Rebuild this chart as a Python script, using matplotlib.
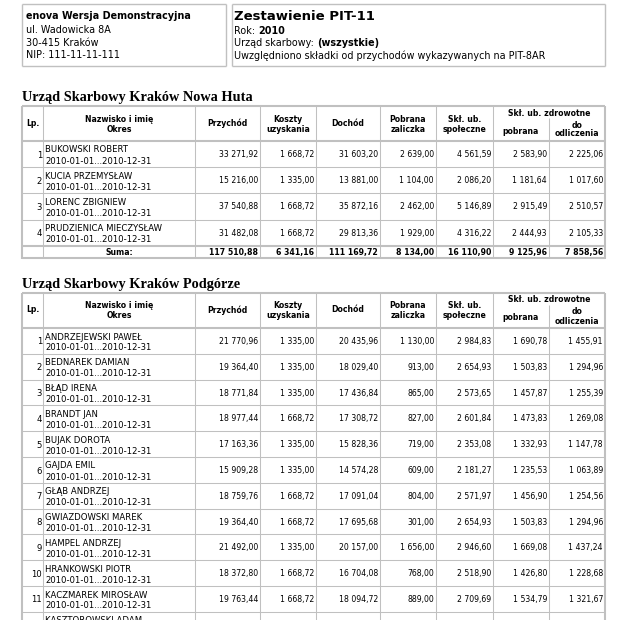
"""PIT-11 summary report (enova demo) redrawn as a matplotlib page."""
import matplotlib
matplotlib.use("Agg")
import matplotlib.pyplot as plt

W, H = 644, 620
GRID = "#c0c0c0"
FONT = "DejaVu Sans"

# --- data -------------------------------------------------------------------
names1 = ["BUKOWSKI ROBERT", "KUCIA PRZEMYSŁAW", "LORENC ZBIGNIEW", "PRUDZIENICA MIECZYSŁAW"]
przychod1 = [33271.92, 15216.00, 37540.88, 31482.08]
koszty1 = [1668.72, 1335.00, 1668.72, 1668.72]
dochod1 = [31603.20, 13881.00, 35872.16, 29813.36]
zaliczka1 = [2639.00, 1104.00, 2462.00, 1929.00]
spol1 = [4561.59, 2086.20, 5146.89, 4316.22]
zdr_pobr1 = [2583.90, 1181.64, 2915.49, 2444.93]
zdr_odl1 = [2225.06, 1017.60, 2510.57, 2105.33]

names2 = ["ANDRZEJEWSKI PAWEŁ", "BEDNAREK DAMIAN", "BŁĄD IRENA", "BRANDT JAN", "BUJAK DOROTA",
          "GAJDA EMIL", "GŁĄB ANDRZEJ", "GWIAZDOWSKI MAREK", "HAMPEL ANDRZEJ",
          "HRANKOWSKI PIOTR", "KACZMAREK MIROSŁAW", "KASZTOROWSKI ADAM"]
przychod2 = [21770.96, 19364.40, 18771.84, 18977.44, 17163.36, 15909.28, 18759.76, 19364.40,
             21492.00, 18372.80, 19763.44]
koszty2 = [1335.00, 1335.00, 1335.00, 1668.72, 1335.00, 1335.00, 1668.72, 1668.72, 1335.00,
           1668.72, 1668.72]
dochod2 = [20435.96, 18029.40, 17436.84, 17308.72, 15828.36, 14574.28, 17091.04, 17695.68,
           20157.00, 16704.08, 18094.72]
zaliczka2 = [1130.00, 913.00, 865.00, 827.00, 719.00, 609.00, 804.00, 301.00, 1656.00,
             768.00, 889.00]
spol2 = [2984.83, 2654.93, 2573.65, 2601.84, 2353.08, 2181.27, 2571.97, 2654.93, 2946.60,
         2518.90, 2709.69]
zdr_pobr2 = [1690.78, 1503.83, 1457.87, 1473.83, 1332.93, 1235.53, 1456.90, 1503.83, 1669.08,
             1426.80, 1534.79]
zdr_odl2 = [1455.91, 1294.96, 1255.39, 1269.08, 1147.78, 1063.89, 1254.56, 1294.96, 1437.24,
            1228.68, 1321.67]

okres = "2010-01-01...2010-12-31"
office1 = "Urząd Skarbowy Kraków Nowa Huta"
office2 = "Urząd Skarbowy Kraków Podgórze"

# column borders (px)
X = [22, 43, 195, 260, 316, 380, 436, 493, 549, 605]


def fmt(v):
    return f"{v:,.2f}".replace(",", " ").replace(".", ",")


fig = plt.figure(figsize=(W / 100, H / 100), dpi=100)
ax = fig.add_axes([0, 0, 1, 1])
ax.set_xlim(0, W); ax.set_ylim(H, 0); ax.axis("off")


def hl(y, x0, x1, lw=0.75):
    ax.plot([x0, x1], [y, y], color=GRID, lw=lw, solid_capstyle="butt")


def vl(x, y0, y1, lw=0.75):
    ax.plot([x, x], [y0, y1], color=GRID, lw=lw, solid_capstyle="butt")


def txt(x, y, s, size=6.1, bold=False, ha="left", va="center", **kw):
    return ax.text(x, y, s, fontsize=size, fontweight="bold" if bold else "normal",
                   ha=ha, va=va, family=FONT, color="black", **kw)


def pair(x, y, a, b, size):
    t = txt(x, y, a, size)
    fig.canvas.draw()
    bb = t.get_window_extent(fig.canvas.get_renderer())
    txt(x + bb.width, y, b, size, bold=True)


# --- page header boxes --------------------------------------------------------
for x0, x1 in [(22, 226), (232, 605)]:
    hl(4, x0, x1, 1.0); hl(66, x0, x1, 1.0); vl(x0, 4, 66, 1.0); vl(x1, 4, 66, 1.0)
txt(26, 16, "enova Wersja Demonstracyjna", 6.9, bold=True)
txt(26, 30, "ul. Wadowicka 8A", 6.9)
txt(26, 43, "30-415 Kraków", 6.9)
txt(26, 55, "NIP: 111-11-11-111", 6.9)
txt(234, 16, "Zestawienie PIT-11", 9.5, bold=True)
pair(234, 31, "Rok: ", "2010", 6.9)
pair(234, 43, "Urząd skarbowy: ", "(wszystkie)", 6.9)
txt(234, 56, "Uwzględniono składki od przychodów wykazywanych na PIT-8AR", 6.9)


def table(top, title, names, cols, row_h, suma):
    ax.text(X[0], top - 5, title, fontsize=10.3, fontweight="bold", family="Liberation Serif",
            ha="left", va="baseline")
    hb = top + 35                                    # header bottom
    n = len(names)
    rows = [hb + i * row_h for i in range(n + 1)]
    bottom = rows[-1] + (12 if suma else 0)
    # header texts
    hs = 5.6
    txt((X[0] + X[1]) / 2, top + 17, "Lp.", hs, True, ha="center")
    for i, (a, b) in {1: ("Nazwisko i imię", "Okres"), 3: ("Koszty", "uzyskania"),
                      5: ("Pobrana", "zaliczka"), 6: ("Skł. ub.", "społeczne")}.items():
        txt((X[i] + X[i + 1]) / 2, top + 13, a, hs, True, ha="center")
        txt((X[i] + X[i + 1]) / 2, top + 23, b, hs, True, ha="center")
    txt((X[2] + X[3]) / 2, top + 17, "Przychód", hs, True, ha="center")
    txt((X[4] + X[5]) / 2, top + 17, "Dochód", hs, True, ha="center")
    txt((X[7] + X[9]) / 2, top + 7, "Skł. ub. zdrowotne", hs, True, ha="center")
    txt((X[7] + X[8]) / 2, top + 25, "pobrana", hs, True, ha="center")
    txt((X[8] + X[9]) / 2, top + 19, "do", hs, True, ha="center")
    txt((X[8] + X[9]) / 2, top + 28, "odliczenia", hs, True, ha="center")
    # grid
    for y in rows[1:-1]:
        hl(y, X[0], X[-1])
    hl(hb, X[0], X[-1], 1.5)
    if suma:
        hl(rows[-1], X[0], X[-1], 1.5)
    for x in X[1:-1]:
        vl(x, top if x != X[8] else top + 12, min(bottom, H))
    hl(top, X[0], X[-1], 1.5)
    if bottom < H:
        hl(bottom, X[0], X[-1], 1.5)
    vl(X[0], top, min(bottom, H) + 1, 1.5); vl(X[-1], top, min(bottom, H) + 1, 1.5)
    # rows (the last row of the second table runs off the page, as in the original)
    ns = 5.6
    for i, nm in enumerate(names):
        y0 = rows[i]
        txt(X[1] - 1, y0 + 14, str(i + 1), 6.1, ha="right")
        txt(X[1] + 2, y0 + 9, nm, 6.1)
        txt(X[1] + 2, y0 + 20, okres, 6.1)
        for c, vals in enumerate(cols):
            if i < len(vals):
                txt(X[c + 3] - 2, y0 + 13.5, fmt(vals[i]), ns, ha="right")
    if suma:
        ys = rows[-1] + 6.5
        txt((X[1] + X[2]) / 2, ys, "Suma:", 5.6, True, ha="center")
        for c, vals in enumerate(cols):
            txt(X[c + 3] - 2, ys, fmt(round(sum(vals), 2)), ns, True, ha="right")


table(106, office1, names1,
      [przychod1, koszty1, dochod1, zaliczka1, spol1, zdr_pobr1, zdr_odl1], 26.2, True)
table(293, office2, names2,
      [przychod2, koszty2, dochod2, zaliczka2, spol2, zdr_pobr2, zdr_odl2], 25.8, False)

fig.savefig("out.png", dpi=100)
